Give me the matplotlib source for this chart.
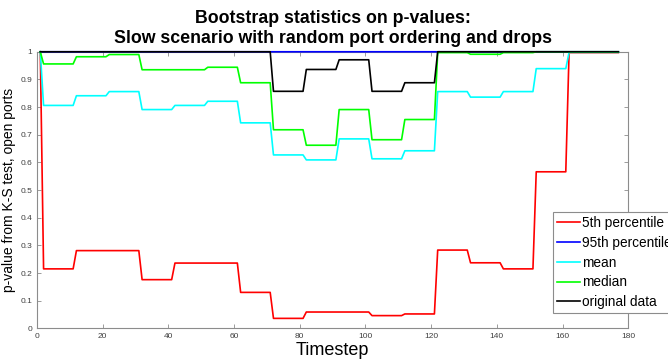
import numpy as np
import matplotlib.pyplot as plt

plt.rcParams["font.family"] = ["Liberation Sans", "DejaVu Sans"]

# =========================
# DATA
# =========================
# values change every 10 timesteps; timestep 1 is 1.0 for every series
seg_start = [2, 12, 22, 32, 42, 52, 62, 72, 82, 92, 102, 112, 122, 132, 142, 152, 162]
seg_end = [11, 21, 31, 41, 51, 61, 71, 81, 91, 101, 111, 121, 131, 141, 151, 161, 177]

p5 = [0.215, 0.281, 0.281, 0.176, 0.236, 0.236, 0.130, 0.036, 0.059,
      0.059, 0.046, 0.052, 0.283, 0.237, 0.215, 0.566, 0.997]
p95 = [1.0] * 17
mean = [0.806, 0.841, 0.856, 0.791, 0.806, 0.821, 0.743, 0.627, 0.609,
        0.685, 0.613, 0.642, 0.856, 0.836, 0.856, 0.939, 0.998]
median = [0.956, 0.982, 0.990, 0.935, 0.935, 0.944, 0.888, 0.718, 0.662,
          0.791, 0.682, 0.755, 0.997, 0.991, 0.997, 1.0, 1.0]
original = [1.0, 1.0, 1.0, 1.0, 1.0, 1.0, 1.0, 0.857, 0.936,
            0.971, 0.857, 0.888, 1.0, 1.0, 1.0, 1.0, 1.0]

series = [
    ("5th percentile", p5, "#ff0000"),
    ("95th percentile", p95, "#0000ff"),
    ("mean", mean, "#00ffff"),
    ("median", median, "#00ff00"),
    ("original data", original, "#000000"),
]


def step_xy(values):
    x = [1]
    y = [1.0]
    for s, e, v in zip(seg_start, seg_end, values):
        x += [s, e]
        y += [v, v]
    return x, y


# =========================
# PLOT
# =========================
fig = plt.figure(figsize=(6.68, 3.62), dpi=100)
ax = fig.add_axes([0.0554, 0.093, 0.885, 0.764])

for label, vals, color in series:
    x, y = step_xy(vals)
    ax.plot(x, y, color=color, linewidth=1.2, label=label,
            clip_on=False, zorder=3, snap=False)

ax.set_xlim(0, 180)
ax.set_ylim(0, 1)
ax.set_xticks(np.arange(0, 181, 20))
ax.set_yticks(np.arange(0, 1.01, 0.1))
ax.set_yticklabels(["0", "0.1", "0.2", "0.3", "0.4", "0.5", "0.6", "0.7", "0.8", "0.9", "1"])

for sp in ax.spines.values():
    sp.set_color("#8c8c8c")
    sp.set_linewidth(0.8)
ax.tick_params(direction="in", length=3, width=0.6, colors="#8c8c8c",
               labelcolor="#404040", labelsize=6, top=True, right=True)

ax.set_title("Bootstrap statistics on p-values:\nSlow scenario with random port ordering and drops",
             fontsize=12.8, fontweight="bold", pad=6, linespacing=1.3)
ax.set_xlabel("Timestep", fontsize=13, labelpad=1)
ax.set_ylabel("p-value from K-S test, open ports", fontsize=10, labelpad=3)

leg = ax.legend(loc="lower left", bbox_to_anchor=(0.828, 0.135), bbox_transform=fig.transFigure,
                fontsize=9.8, handlelength=1.7, handletextpad=0.1, labelspacing=0.42,
                borderpad=0.3, borderaxespad=0, fancybox=False, framealpha=1)
leg.get_frame().set_edgecolor("#8c8c8c")
leg.get_frame().set_linewidth(0.8)
leg.set_zorder(5)

plt.savefig("out.png", dpi=100)
plt.close()
